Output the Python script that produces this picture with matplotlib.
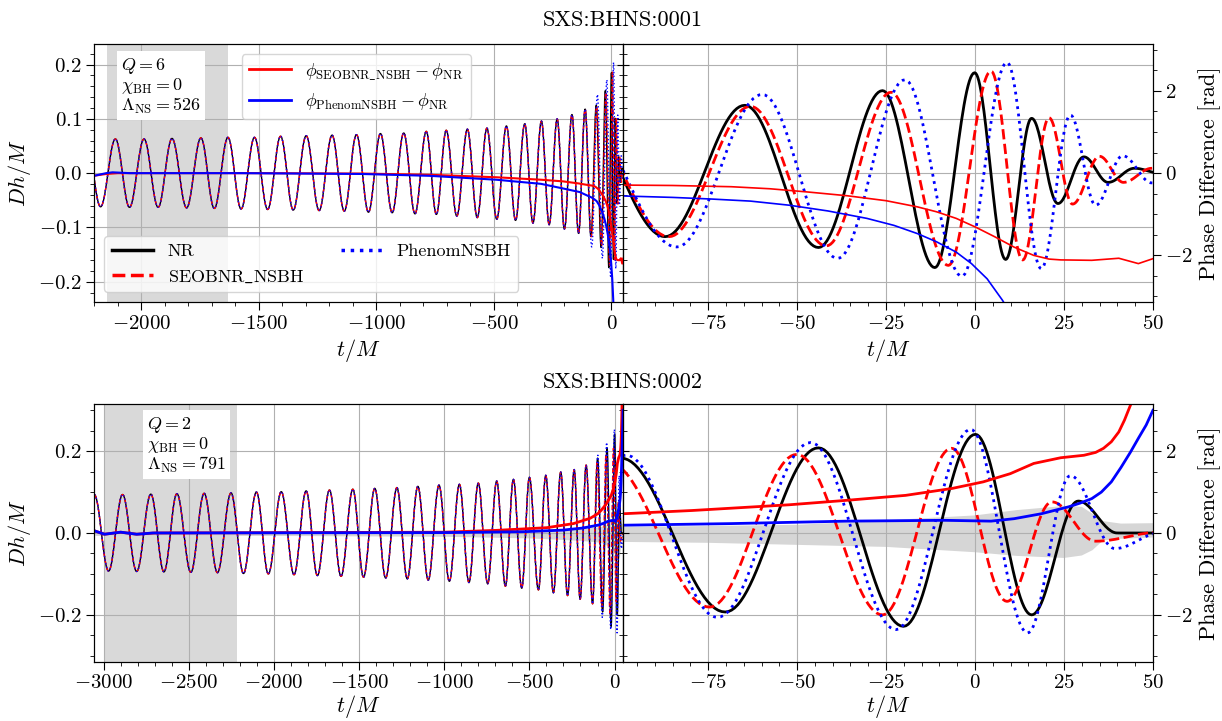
import numpy as np
import matplotlib
matplotlib.use('Agg')
import matplotlib.pyplot as plt
from matplotlib.lines import Line2D
from matplotlib.ticker import MultipleLocator, FixedLocator

plt.rcParams.update({
    'font.family': 'serif',
    'font.serif': ['cmr10'],
    'mathtext.fontset': 'cm',
    'axes.formatter.use_mathtext': True,
    'axes.unicode_minus': True,
    'xtick.labelsize': 15,
    'ytick.labelsize': 15,
})

# ---------------- SXS:BHNS:0001 (top row) ----------------
# extrema of the strain (peaks / troughs), common to all three models early on
t1_early = [-2235, -2174, -2111, -2051, -1989, -1929, -1870, -1808, -1747, -1690,
            -1632, -1576, -1519, -1463, -1408, -1354, -1299, -1244, -1189, -1137,
            -1085, -1034, -983, -933, -884, -836, -788, -745, -703, -658,
            -613, -571, -530, -488, -447, -408, -369, -334, -298, -265,
            -231, -200, -168, -140, -112]
h1_early = [0.062, -0.062, 0.063, -0.063, 0.063, -0.063, 0.064, -0.064, 0.065, -0.065,
            0.066, -0.066, 0.066, -0.067, 0.068, -0.068, 0.069, -0.069, 0.070, -0.070,
            0.071, -0.072, 0.073, -0.073, 0.074, -0.075, 0.077, -0.076, 0.079, -0.079,
            0.081, -0.082, 0.083, -0.085, 0.087, -0.087, 0.091, -0.092, 0.096, -0.095,
            0.100, -0.103, 0.108, -0.111, 0.118]
t1_nr = [-87.1, -64.7, -44.0, -26.0, -11.3, -0.1, 8.6, 15.9, 23.3, 30.6, 37.4, 44.8, 52]
h1_nr = [-0.117, 0.125, -0.137, 0.152, -0.174, 0.185, -0.159, 0.101, -0.056, 0.030, -0.017, 0.009, 0.0]
t1_eob = [-86.0, -63.1, -41.8, -23.6, -7.5, 4.5, 13.4, 20.8, 27.4, 35.0, 41.7, 49.7, 52]
h1_eob = [-0.117, 0.123, -0.134, 0.149, -0.170, 0.188, -0.160, 0.102, -0.057, 0.031, -0.017, 0.009, 0.009]
t1_phen = [-83.8, -59.8, -38.6, -19.7, -3.7, 9.0, 18.6, 26.8, 33.9, 41.5, 49.7, 52]
h1_phen = [-0.136, 0.145, -0.157, 0.172, -0.190, 0.204, -0.176, 0.107, -0.059, 0.032, -0.018, -0.018]

# phase differences [rad]
t1_dphi_eob = [-2198, -2150, -2100, -1500, -1063, -774, -490, -300, -206, -140,
               -99, -85, -68.5, -57.6, -46.8, -35.9, -25.0, -16.2, -10.8, -5.3,
               0.1, 5.6, 11.0, 16.5, 20.8, 24.1, 32.8, 40.4, 45.9, 50]
dphi1_eob = [-0.06, -0.02, 0.0, 0.0, -0.01, -0.04, -0.10, -0.16, -0.20, -0.25,
             -0.29, -0.30, -0.33, -0.38, -0.46, -0.55, -0.67, -0.82, -0.94, -1.10,
             -1.31, -1.55, -1.80, -2.00, -2.09, -2.11, -2.12, -2.07, -2.20, -2.08]
t1_dphi_phen = [-2198, -2150, -2123, -2050, -1576, -1063, -774, -490, -300, -200,
                -135, -99, -85, -74, -63.1, -52.2, -41.3, -30.4, -22.8, -16.2,
                -10.8, -5.3, -1.0, 3.4, 7.7, 9.5]
dphi1_phen = [-0.06, 0.0, 0.02, 0.0, 0.0, -0.02, -0.065, -0.16, -0.26, -0.38,
              -0.46, -0.555, -0.59, -0.63, -0.68, -0.78, -0.92, -1.10, -1.27, -1.47,
              -1.67, -1.92, -2.20, -2.57, -3.09, -3.35]

# ---------------- SXS:BHNS:0002 (bottom row) ----------------
t2_early = [-3055, -2971, -2889, -2806, -2723, -2646, -2570, -2488, -2410, -2332,
            -2252, -2179, -2103, -2033, -1957, -1882, -1811, -1745, -1674, -1606,
            -1537, -1474, -1408, -1344, -1278, -1217, -1155, -1094, -1031, -970,
            -911, -855, -800, -745, -692, -641, -594, -545, -500, -447,
            -404, -359, -316, -276, -237, -202, -167, -129]
h2_early = [0.094, -0.093, 0.094, -0.094, 0.095, -0.095, 0.096, -0.096, 0.097, -0.097,
            0.098, -0.099, 0.100, -0.100, 0.101, -0.102, 0.103, -0.104, 0.105, -0.106,
            0.107, -0.108, 0.109, -0.110, 0.111, -0.112, 0.114, -0.115, 0.117, -0.118,
            0.119, -0.121, 0.122, -0.124, 0.127, -0.130, 0.131, -0.135, 0.136, -0.139,
            0.141, -0.146, 0.149, -0.153, 0.155, -0.162, 0.166, -0.173]
t2_nr = [-99.5, -70.2, -44.0, -20.1, 0.1, 15.9, 29.0, 40.0, 52]
h2_nr = [0.183, -0.193, 0.208, -0.228, 0.241, -0.200, 0.078, 0.0, 0.0]
t2_eob = [-103, -74.6, -50.1, -26.0, -6.6, 9.0, 21.6, 33.9, 52]
h2_eob = [0.172, -0.181, 0.192, -0.200, 0.207, -0.167, 0.076, -0.020, 0.002]
t2_phen = [-98, -72.4, -46.2, -22.2, -1.2, 14.8, 26.8, 39.3, 52]
h2_phen = [0.190, -0.206, 0.221, -0.236, 0.253, -0.244, 0.140, -0.038, 0.0]

t2_dphi_eob = [-3052, -2995, -2900, -2806, -2700, -1000, -692, -398, -241, -143,
               -99, -79.5, -52.2, -35.9, -19.5, -6.4, 2.3, 9.9, 16.5, 24.1,
               30.6, 33.9, 36.1, 38.3, 40.4, 42.0, 43.7, 45.5]
dphi2_eob = [0.05, -0.03, 0.02, -0.03, 0.0, 0.02, 0.065, 0.13, 0.23, 0.36,
             0.47, 0.55, 0.69, 0.80, 0.92, 1.09, 1.25, 1.45, 1.70, 1.84,
             1.90, 1.97, 2.07, 2.23, 2.47, 2.76, 3.13, 3.45]
t2_dphi_phen = [-3052, -2995, -2900, -2806, -2712, -1000, -542, -306, -189, -99,
                -68.5, -35.9, -8.6, 4.5, 11.0, 18.6, 26.3, 29.5, 32.8, 35.5,
                38.3, 41.0, 43.7, 46.0, 48.1, 50]
dphi2_phen = [0.05, -0.03, 0.02, -0.03, 0.0, 0.01, 0.03, 0.07, 0.12, 0.19,
              0.23, 0.29, 0.31, 0.29, 0.35, 0.47, 0.64, 0.73, 0.84, 1.0,
              1.25, 1.6, 1.98, 2.33, 2.64, 3.0]
# NR phase uncertainty band
t2_band = [-3052, -2000, -1000, -500, -200, -97, -75, -50, -25, 0, 11.7, 25, 30, 33, 36, 41, 50]
band2_hi = [0.05, 0.05, 0.06, 0.08, 0.12, 0.15, 0.17, 0.20, 0.31, 0.43, 0.56, 0.66, 0.64, 0.47, 0.29, 0.23, 0.24]
band2_lo = [-0.06, -0.06, -0.08, -0.12, -0.18, -0.22, -0.24, -0.29, -0.34, -0.47, -0.56, -0.61, -0.55, -0.42, -0.18, -0.14, -0.11]


def waveform(te, he, n=30):
    # half-cosine between consecutive extrema
    ts, hs = [], []
    for i in range(len(te) - 1):
        s = np.linspace(0, 1, n, endpoint=False)
        ts.append(te[i] + s * (te[i + 1] - te[i]))
        hs.append((he[i] + he[i + 1]) / 2 + (he[i] - he[i + 1]) / 2 * np.cos(np.pi * s))
    ts.append([te[-1]])
    hs.append([he[-1]])
    return np.concatenate(ts), np.concatenate(hs)


fig = plt.figure(figsize=(12.22, 7.21), dpi=100)
x0, xm, x1 = 0.0773, 0.5096, 0.9435


def draw_row(bottom, height, early_t, early_h, tails, dphis, xlim_l, dh_lim,
             dh_major, dh_minor, lw_phase_l, lw_phase_r, xpad, band=None):
    axl = fig.add_axes([x0, bottom, xm - x0, height])
    axr = fig.add_axes([xm, bottom, x1 - xm, height], sharey=axl)
    tl = axl.twinx()
    tr = axr.twinx()

    if band is not None:
        k = dh_lim / np.pi
        for ax in (axl, axr):
            ax.fill_between(band[0], np.array(band[2]) * k, np.array(band[1]) * k,
                            color='0.84', lw=0, zorder=1)

    styles = [dict(color='black', ls='-'), dict(color='red', ls='--'), dict(color='blue', ls=':')]
    for (tt, hh), st in zip(tails, styles):
        t, h = waveform(list(early_t) + list(tt), list(early_h) + list(hh))
        axl.plot(t, h, lw=1.0, **st)
        axr.plot(t, h, lw=2.0, **st)

    for (t, d), c in zip(dphis, ['red', 'blue']):
        tl.plot(t, d, color=c, lw=lw_phase_l)
        tr.plot(t, d, color=c, lw=lw_phase_r)

    axl.set_xlim(*xlim_l)
    axr.set_xlim(-99, 50)
    axl.set_ylim(-dh_lim, dh_lim)
    for tw in (tl, tr):
        tw.set_ylim(-np.pi, np.pi)

    axl.xaxis.set_major_locator(MultipleLocator(500))
    axl.xaxis.set_minor_locator(MultipleLocator(100))
    axr.xaxis.set_major_locator(FixedLocator([-75, -50, -25, 0, 25, 50]))
    axr.xaxis.set_minor_locator(MultipleLocator(5))
    axl.yaxis.set_major_locator(MultipleLocator(dh_major))
    axl.yaxis.set_minor_locator(MultipleLocator(dh_minor))

    for ax in (axl, axr):
        ax.grid(True, which='major', color='#b0b0b0', lw=0.8)
        ax.tick_params(which='both', top=False, right=False)
        ax.tick_params(which='major', length=5.5)
        ax.tick_params(which='minor', length=3)
        ax.set_xlabel(r'$t/M$', fontsize=16, labelpad=xpad)
    axr.tick_params(axis='y', which='both', direction='inout', labelleft=False)
    axr.tick_params(axis='y', which='major', length=9)
    axr.tick_params(axis='y', which='minor', length=6)
    axl.set_ylabel(r'$Dh/M$', fontsize=16)

    tl.set_yticks([])
    tl.tick_params(which='both', right=False, labelright=False)
    tr.yaxis.set_major_locator(MultipleLocator(2))
    tr.yaxis.set_minor_locator(MultipleLocator(0.5))
    tr.tick_params(which='major', length=5.5)
    tr.tick_params(which='minor', length=3)
    tr.set_ylabel('Phase Difference [rad]', fontsize=16)
    return axl, axr, tl, tr


# top row
axl1, axr1, tl1, tr1 = draw_row(
    0.5807, 0.3583, t1_early, h1_early,
    [(t1_nr, h1_nr), (t1_eob, h1_eob), (t1_phen, h1_phen)],
    [(t1_dphi_eob, dphi1_eob), (t1_dphi_phen, dphi1_phen)],
    (-2200, 48), 0.238, 0.1, 0.02, 1.5, 1.2, 3)
axl1.axvspan(-2147, -1630, color='#d9d9d9', lw=0, zorder=0.8)
axl1.text(0.05, 0.955, '$Q = 6$\n' + r'$\chi_{\rm BH} = 0$' + '\n' + r'$\Lambda_{\rm NS} = 526$',
          transform=axl1.transAxes, ha='left', va='top', fontsize=13, linespacing=1.0,
          bbox=dict(facecolor='white', edgecolor='none', pad=3))

leg1 = tl1.legend([Line2D([], [], color='red', lw=2), Line2D([], [], color='blue', lw=2)],
                  [r'$\phi_{\rm SEOBNR\_NSBH} - \phi_{\rm NR}$', r'$\phi_{\rm PhenomNSBH} - \phi_{\rm NR}$'],
                  loc='upper left', bbox_to_anchor=(0.279, 0.961), borderaxespad=0,
                  fontsize=13, handlelength=2.3)
leg2 = tl1.legend([Line2D([], [], color='black', lw=2.5),
                   Line2D([], [], color='red', ls='--', lw=2.5),
                   Line2D([], [], color='blue', ls=':', lw=2.5)],
                  ['NR', r'SEOBNR$\_$NSBH', 'PhenomNSBH'],
                  ncol=2, mode='expand', loc='lower left',
                  bbox_to_anchor=(0.019, 0.041, 0.783, 0.2), borderaxespad=0,
                  fontsize=13, handlelength=2.3)
tl1.add_artist(leg1)

# bottom row
axl2, axr2, tl2, tr2 = draw_row(
    0.0825, 0.3565, t2_early, h2_early,
    [(t2_nr, h2_nr), (t2_eob, h2_eob), (t2_phen, h2_phen)],
    [(t2_dphi_eob, dphi2_eob), (t2_dphi_phen, dphi2_phen)],
    (-3054, 48), 0.314, 0.2, 0.05, 2.0, 2.0, 0.5,
    band=(t2_band, band2_hi, band2_lo))
axl2.axvspan(-2995, -2217, color='#d9d9d9', lw=0, zorder=0.8)
axl2.text(0.099, 0.958, '$Q = 2$\n' + r'$\chi_{\rm BH} = 0$' + '\n' + r'$\Lambda_{\rm NS} = 791$',
          transform=axl2.transAxes, ha='left', va='top', fontsize=13, linespacing=1.0,
          bbox=dict(facecolor='white', edgecolor='none', pad=3))

fig.text(xm, 1 - 20 / 721, 'SXS:BHNS:0001', ha='center', va='center', fontsize=16)
fig.text(xm, 1 - 382 / 721, 'SXS:BHNS:0002', ha='center', va='center', fontsize=16)

fig.savefig('out.png', dpi=100)
